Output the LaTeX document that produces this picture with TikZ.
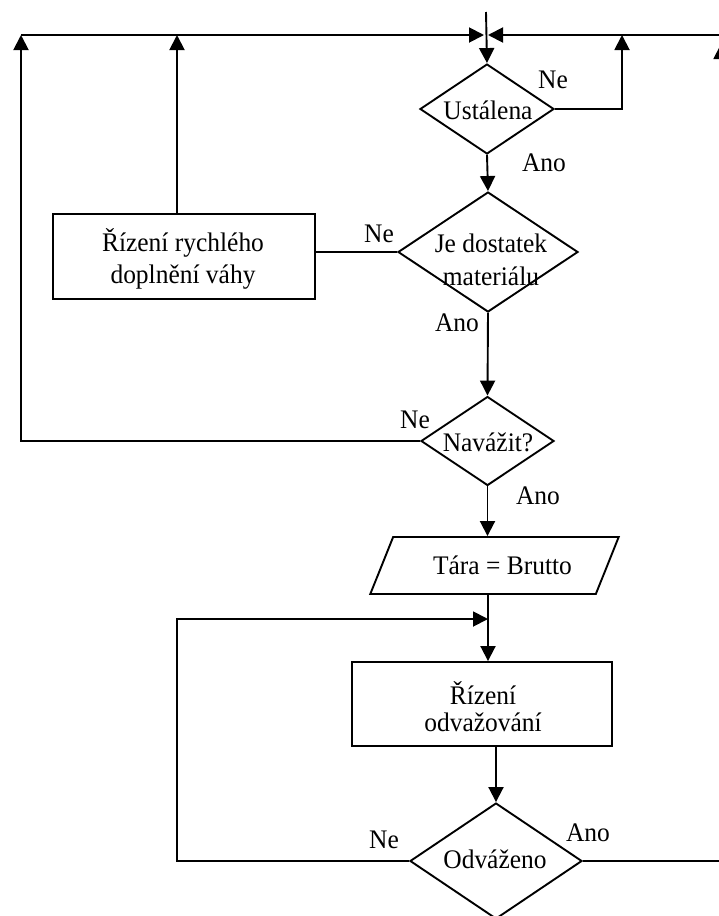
\documentclass[tikz,border=0pt]{standalone}
\usepackage{fontspec}
\setmainfont[FakeStretch=0.95]{Liberation Serif}
\usetikzlibrary{shapes.geometric,arrows.meta}
\begin{document}
\begin{tikzpicture}[x=1pt,y=-1pt,
  line width=1.9pt,
  every node/.style={font=\fontsize{26.8}{32}\selectfont},
  dia/.style={draw, diamond, inner sep=0pt},
  box/.style={draw, rectangle, inner sep=0pt},
  io/.style={draw, trapezium, trapezium left angle=52, trapezium right angle=128,
             trapezium stretches=true, inner sep=2pt},
  arr/.style={-{Triangle[length=15pt,width=15pt]}},
  lbl/.style={inner sep=0pt, align=center}
]
\useasboundingbox (0,0) rectangle (718,916);

% decision and process blocks
\node[dia, minimum width=134pt, minimum height=90pt]  (ust) at (487,109) {};
\node[lbl] (ustT) at (488,110) {Ustálena};
\node[dia, minimum width=180pt, minimum height=120pt] (je)  at (488,252) {};
\node[lbl, font=\fontsize{26.8}{33}\selectfont] (jeT) at (491,260) {Je dostatek\\materiálu};
\node[box, minimum width=262pt, minimum height=85pt]  (rr)  at (184,256.5) {};
\node[lbl] (rrT) at (183,259) {Řízení rychlého\\doplnění váhy};
\node[dia, minimum width=133pt, minimum height=89pt]  (nav) at (487.5,441) {};
\node[lbl] (navT) at (488,442) {Navážit?};
\node[io, minimum width=249pt, minimum height=57pt]   (tara) at (494.5,565.5) {\hspace*{16pt}Tára = Brutto};
\node[box, minimum width=260pt, minimum height=84pt]  (ro)  at (482,704) {};
\node[lbl, font=\fontsize{26.8}{27}\selectfont] (roT) at (483,707) {Řízení\\odvažování};
\node[dia, minimum width=172pt, minimum height=116pt] (odv) at (496,861) {};
\node[lbl] (odvT) at (495,859) {Odváženo};

% branch labels
\node[lbl] (ustNe)  at (553,80)  {Ne};
\node[lbl] (ustAno) at (544,163) {Ano};
\node[lbl] (jeNe)   at (379,234) {Ne};
\node[lbl] (jeAno)  at (457,323) {Ano};
\node[lbl] (navNe)  at (415,420) {Ne};
\node[lbl] (navAno) at (538,496) {Ano};
\node[lbl] (odvNe)  at (384,840) {Ne};
\node[lbl] (odvAno) at (588,833) {Ano};

% bends of the return lines
\coordinate (topin) at (486,12);
\coordinate (jl) at (484,35);
\coordinate (jr) at (488,35);
\coordinate (tl) at (21,35);
\coordinate (tu) at (622,35);
\coordinate (tr) at (721,35);
\coordinate (rb) at (721,861);
\coordinate (rt) at (721,44);
\coordinate (lp) at (177,619);
\coordinate (lpe) at (488,619);

% main flow
\draw[arr] (topin) -- (ust.north);
\draw[arr] (ust.south) -- (je.north);
\draw[arr] (je.south) -- (nav.north);
\draw[arr] (nav.south) -- (nav.south |- tara.north);
\draw[arr] (lpe |- tara.south) -- (lpe |- ro.north);
\draw[arr] (odv.north |- ro.south) -- (odv.north);

% return lines
\draw[arr] (ust.east) -| (tu);
\draw (rr.east |- je.west) -- (je.west);
\draw[arr] (rr.north -| lp) -- (tl -| lp);
\draw[arr] (nav.west) -| (tl);
\draw[arr] (tl) -- (jl);
\draw[arr] (tr) -- (jr);
\draw (odv.east) -- (rb);
\draw[arr] (rb) -- (rt);
\draw[arr] (odv.west) -| (lp) -- (lpe);
\end{tikzpicture}
\end{document}
